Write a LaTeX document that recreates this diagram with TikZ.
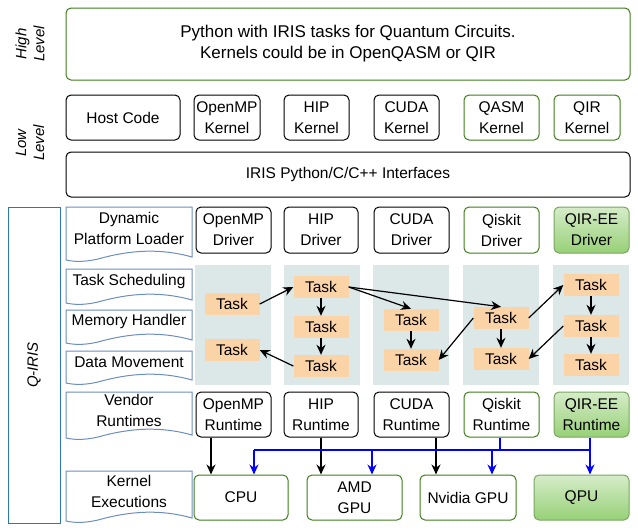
\documentclass[tikz,border=0pt]{standalone}
\usepackage{fontspec}
\setmainfont{Liberation Sans}
\usetikzlibrary{arrows.meta}
\definecolor{gr}{HTML}{3D7D1A}
\definecolor{grf}{HTML}{97D077}
\definecolor{bl}{HTML}{6C8EBF}
\definecolor{qb}{HTML}{2A7AB0}
\definecolor{bgc}{HTML}{DCE7E7}
\definecolor{tk}{HTML}{FAD3A7}
\begin{document}
\begin{tikzpicture}[x=1pt,y=-1pt,font=\fontsize{15.5}{21}\selectfont,
 bx/.style={draw,rounded corners=5pt,line width=1pt,align=center,inner sep=0pt},
 gbx/.style={bx,draw=gr},
 fbx/.style={bx,draw=grf!80!black,top color=grf!40,bottom color=grf},
 task/.style={fill=tk,minimum width=55pt,minimum height=22pt,inner sep=0pt},
 ar/.style={-{Stealth[length=10pt,width=9pt]},line width=1.2pt},
 bar/.style={ar,blue},
 lab/.style={rotate=90,font=\itshape\fontsize{15}{18}\selectfont,align=center}]
\useasboundingbox (0,0) rectangle (638,531);
\newcommand{\bxat}[5]{\node[#1,minimum width={#4-#2},minimum height={#5-#3}] at ({(#2+#4)/2},{(#3+#5)/2})}
% high level
\bxat{gbx}{66}{8}{630}{80} (hl) {\fontsize{17}{24}\selectfont Python with IRIS tasks for Quantum Circuits.\\\fontsize{17}{24}\selectfont Kernels could be in OpenQASM or QIR};
\node[lab] (lh) at (30,44) {High\\Level};
\node[lab] (ll) at (30,143) {Low\\Level};
\bxat{bx}{66}{95}{180}{140} (hc) {Host Code};
\bxat{bx}{194}{95}{260}{140} (ok) {OpenMP\\Kernel};
\bxat{bx}{284}{95}{349}{140} (hk) {HIP\\Kernel};
\bxat{bx}{374}{95}{439}{140} (ck) {CUDA\\Kernel};
\bxat{gbx}{464}{95}{539}{140} (qk) {QASM\\Kernel};
\bxat{gbx}{554}{95}{620}{140} (rk) {QIR\\Kernel};
\bxat{bx}{66}{152}{630}{197} (ifc) {IRIS Python/C/C++ Interfaces};
% Q-IRIS
\node[draw=qb,line width=1pt,minimum width=52pt,minimum height=316pt,inner sep=0pt] (qi) at (34,365) {};
\node[lab] at (34,365) {Q-IRIS};
% document shapes
\foreach \a/\b/\t [count=\i] in {207/262/{Dynamic\\Platform Loader},269/305/{Task Scheduling},310/345/{Memory Handler},351/385/{Data Movement},392/440/{Vendor\\Runtimes},471/523/{Kernel\\Executions}}{
 \draw[bl,line width=1pt] (66,\a) -- (192,\a) -- (192,\b-5) .. controls (160,\b-14) and (130,\b-12) .. (98,\b-3) .. controls (85,\b) and (75,\b) .. (66,\b-2) -- cycle;
 \node[align=center,inner sep=0pt] (d\i) at (129,{(\a+\b)/2-6}) {\t};
}
% drivers
\bxat{bx}{196}{207}{271}{253} (od) {OpenMP\\Driver};
\bxat{bx}{284}{207}{358}{253} (hd) {HIP\\Driver};
\bxat{bx}{374}{207}{449}{253} (cd) {CUDA\\Driver};
\bxat{gbx}{464}{207}{539}{253} (qd) {Qiskit\\Driver};
\bxat{fbx}{554}{207}{629}{253} (rd) {QIR-EE\\Driver};
% backgrounds
\foreach \l [count=\i] in {195,284,373,463,553}
 \node[fill=bgc,minimum width=76pt,minimum height=120pt,inner sep=0pt] (bg\i) at (\l+38,325) {};
\node[task] (a1) at (232,304) {Task};
\node[task] (a2) at (232,350) {Task};
\node[task] (b1) at (321,287) {Task};
\node[task] (b2) at (321,327) {Task};
\node[task] (b3) at (321,366) {Task};
\node[task] (c1) at (411,320) {Task};
\node[task] (c2) at (411,360) {Task};
\node[task] (e1) at (501,318) {Task};
\node[task] (e2) at (501,359) {Task};
\node[task] (f1) at (591,285) {Task};
\node[task] (f2) at (591,326) {Task};
\node[task] (f3) at (591,365) {Task};
\draw[ar] (a1.east) -- (b1.west);
\draw[ar] (b3.west) -- (a2.east);
\draw[ar] (b1) -- (b2); \draw[ar] (b2) -- (b3);
\draw[ar] (b1.east) -- (c1.north);
\draw[ar] (b1.east) -- (e1.north);
\draw[ar] (c1) -- (c2);
\draw[ar] (e1.west) -- (c2.east);
\draw[ar] (e1) -- (e2);
\draw[ar] (e1.east) -- (f1.west);
\draw[ar] (f2.west) -- (e2.east);
\draw[ar] (f1) -- (f2); \draw[ar] (f2) -- (f3);
% runtimes
\bxat{bx}{196}{392}{271}{437} (or) {OpenMP\\Runtime};
\bxat{bx}{284}{392}{358}{437} (hr) {HIP\\Runtime};
\bxat{bx}{374}{392}{449}{437} (cr) {CUDA\\Runtime};
\bxat{gbx}{464}{392}{539}{437} (qr) {Qiskit\\Runtime};
\bxat{fbx}{554}{392}{629}{437} (rr) {QIR-EE\\Runtime};
% devices
\bxat{gbx}{194}{475}{288}{520} (cpu) {CPU};
\bxat{gbx}{307}{475}{402}{520} (amd) {AMD\\GPU};
\bxat{gbx}{420}{475}{516}{520} (nv) {Nvidia GPU};
\bxat{fbx}{534}{475}{629}{520} (qpu) {QPU};
\draw[ar] (or.south -| 211,0) -- (cpu.north -| 211,0);
\draw[ar] (hr.south -| 321,0) -- (amd.north -| 321,0);
\draw[ar] (cr.south -| 436,0) -- (nv.north -| 436,0);
\coordinate (j1) at (500,450);
\coordinate (j2) at (590,450);
\coordinate (jl) at (254,450);
\draw[blue,line width=1.2pt] (qr.south -| j1) -- (j1);
\draw[blue,line width=1.2pt] (jl) -- (j2);
\draw[bar] (rr.south -| j2) -- (qpu.north -| j2);
\draw[bar] (jl) -- (cpu.north -| jl);
\draw[bar] (372,450) -- (amd.north -| 372,0);
\draw[bar] (492,450) -- (nv.north -| 492,0);
\end{tikzpicture}
\end{document}
